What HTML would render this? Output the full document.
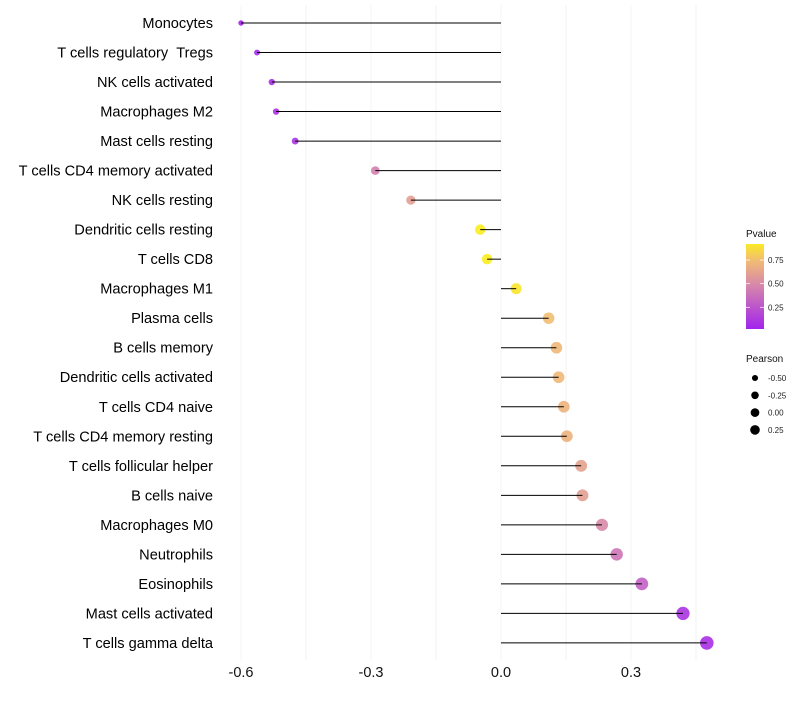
<!DOCTYPE html>
<html><head><meta charset="utf-8"><style>
body{margin:0;background:#fff;font-family:"Liberation Sans",sans-serif}
</style></head><body>
<svg id="c" width="800" height="700" xmlns="http://www.w3.org/2000/svg"></svg>
<script>
const cells=["Monocytes","T cells regulatory\u00a0\u00a0Tregs","NK cells activated","Macrophages M2","Mast cells resting","T cells CD4 memory activated","NK cells resting","Dendritic cells resting","T cells CD8","Macrophages M1","Plasma cells","B cells memory","Dendritic cells activated","T cells CD4 naive","T cells CD4 memory resting","T cells follicular helper","B cells naive","Macrophages M0","Neutrophils","Eosinophils","Mast cells activated","T cells gamma delta"];
const pearson=[-0.60,-0.563,-0.529,-0.519,-0.475,-0.29,-0.208,-0.048,-0.032,0.035,0.11,0.128,0.133,0.145,0.152,0.185,0.188,0.233,0.267,0.325,0.42,0.475];
const pvalue=[0.02,0.05,0.06,0.07,0.1,0.45,0.6,0.93,0.93,0.9,0.75,0.72,0.72,0.7,0.7,0.62,0.6,0.5,0.4,0.3,0.1,0.07];
const xTicks=[-0.6,-0.3,0.0,0.3];
const xTickLabels=["-0.6","-0.3","0.0","0.3"];
const colTicks=[0.25,0.5,0.75];
const sizeTicks=[-0.5,-0.25,0,0.25];
const sizeLabels=["-0.50","-0.25","0.00","0.25"];

const svg=document.getElementById('c');const NS="http://www.w3.org/2000/svg";
function el(t,a,p){const e=document.createElementNS(NS,t);for(const k in a)e.setAttribute(k,a[k]);(p||svg).appendChild(e);return e;}
const X=v=>501+v*433.3;
const Y=i=>23+i*29.52;
const R=v=>Math.sqrt(Math.max(2.5,29+36*v));
const stops=[[0,[160,32,240]],[0.5,[216,138,168]],[0.75,[242,189,114]],[1,[255,255,0]]];
function col(p){for(let i=1;i<stops.length;i++){if(p<=stops[i][0]){const a=stops[i-1],b=stops[i],t=(p-a[0])/(b[0]-a[0]);return 'rgb('+a[1].map((c,j)=>Math.round(c+(b[1][j]-c)*t)).join(',')+')';}}return 'rgb(255,255,0)';}
[-0.45,-0.15,0.15,0.45].forEach(v=>{const g=el('line',{x1:X(v),x2:X(v),y1:5,y2:660,stroke:'#f2f2f2','stroke-width':1});

});
xTicks.forEach((v,i)=>{const g=el('line',{x1:X(v),x2:X(v),y1:5,y2:660,stroke:'#f4f4f4','stroke-width':1});


const t=el('text',{x:X(v),y:677,'text-anchor':'middle','font-size':14.5,fill:'#111'});t.textContent=xTickLabels[i];

});
cells.forEach((c,i)=>{
const y=Y(i);
const t=el('text',{x:213,y:y+5,'text-anchor':'end','font-size':14.6,fill:'#000'});t.textContent=c;


const d=el('circle',{cx:X(pearson[i]),cy:y,r:R(pearson[i]),fill:col(pvalue[i]),'fill-opacity':0.9});


const l=el('line',{x1:X(0),x2:X(pearson[i]),y1:y,y2:y,stroke:'#000','stroke-width':1});


});
const defs=el('defs',{});const lg=el('linearGradient',{id:'g',x1:0,y1:1,x2:0,y2:0},defs);
const p0=0.02,p1=0.92;
for(let k=0;k<=10;k++){const p=p0+(p1-p0)*k/10;el('stop',{offset:k/10,'stop-color':col(p)},lg);}
const lt=el('text',{x:746,y:237,'font-size':10,fill:'#111'});lt.textContent='Pvalue';


const cb=el('rect',{x:746,y:244,width:18,height:85,fill:'url(#g)'});


const cy=p=>329-(p-p0)/(p1-p0)*85;
colTicks.forEach(p=>{el('line',{x1:746,x2:750,y1:cy(p),y2:cy(p),stroke:'#fff','stroke-width':0.7});el('line',{x1:760,x2:764,y1:cy(p),y2:cy(p),stroke:'#fff','stroke-width':0.7});
const t=el('text',{x:768,y:cy(p)+3,'font-size':8,fill:'#222'});t.textContent=p.toFixed(2);

});
const st=el('text',{x:746,y:362,'font-size':10,fill:'#111'});st.textContent='Pearson';


sizeTicks.forEach((v,i)=>{const y=378+i*17.3;
const c=el('circle',{cx:755,cy:y,r:R(v)*0.62+1,fill:'#000'});


const t=el('text',{x:768,y:y+3,'font-size':8,fill:'#222'});t.textContent=sizeLabels[i];

});
</script>
</body></html>
